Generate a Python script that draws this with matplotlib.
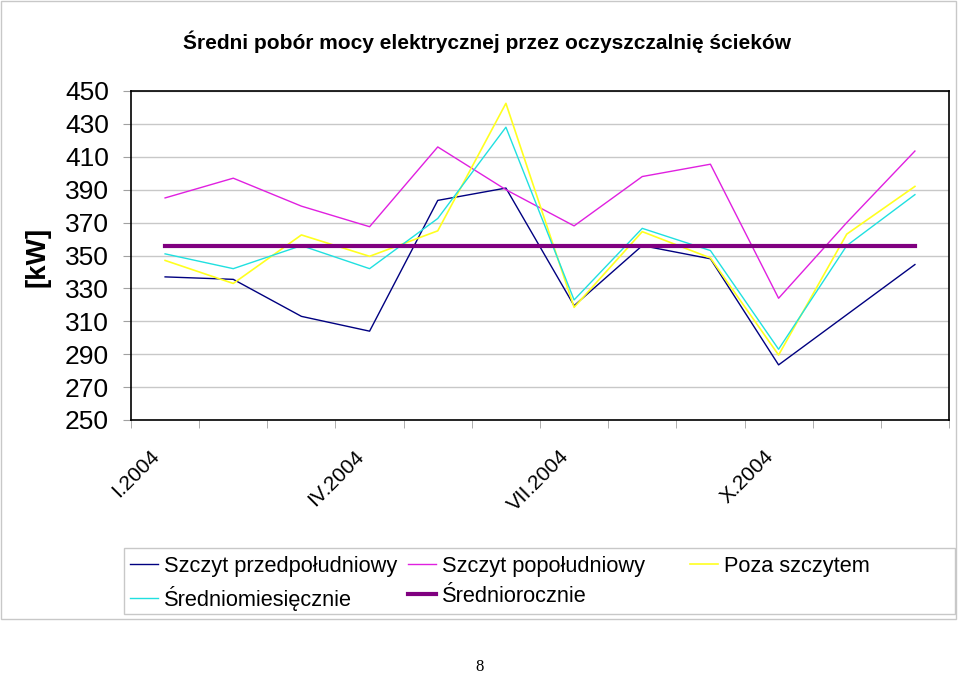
import numpy as np
import matplotlib
matplotlib.use('Agg')
import matplotlib.pyplot as plt
import matplotlib.transforms as mtransforms
from matplotlib.lines import Line2D
from matplotlib.patches import Rectangle

plt.rcParams['font.family'] = ['Liberation Sans', 'DejaVu Sans']

# ---- data ----
months = ['I.2004', 'II.2004', 'III.2004', 'IV.2004', 'V.2004', 'VI.2004',
          'VII.2004', 'VIII.2004', 'IX.2004', 'X.2004', 'XI.2004', 'XII.2004']
szczyt_przed = [337, 335.5, 313, 304, 383.5, 391, 319.5, 356, 348, 283.5, 314, 344.5]
szczyt_popo = [385, 397, 380, 367.5, 416, 390, 368, 398, 405.5, 324, 370, 413.5]
poza_szczytem = [347, 333, 362.5, 349.5, 365, 442.5, 318.5, 364.5, 348.5, 289.5, 363, 392]
sr_miesiecznie = [351, 342, 356, 342, 372.5, 428, 323, 366.5, 353, 293, 356, 387]
sr_rocznie = 356
shown_labels = ['I.2004', 'IV.2004', 'VII.2004', 'X.2004']
yticks = list(range(250, 451, 20))
series_names = ['Szczyt przedpołudniowy', 'Szczyt popołudniowy', 'Poza szczytem',
                'Średniomiesięcznie', 'Średniorocznie']

W, H = 960, 676
fig = plt.figure(figsize=(W / 100, H / 100), dpi=100)

def fx(px):
    return px / W

def fy(py):
    return 1 - py / H

ax = fig.add_axes([fx(131), fy(420), fx(949) - fx(131), fy(91) - fy(420)])

x = np.arange(len(months))
h1, = ax.plot(x, szczyt_przed, color='#000080', lw=1.0)
h2, = ax.plot(x, szczyt_popo, color='#e020e0', lw=1.0)
h3, = ax.plot(x, poza_szczytem, color='#ffff20', lw=1.2)
h4, = ax.plot(x, sr_miesiecznie, color='#20e0e0', lw=1.0)
h5, = ax.plot(x, [sr_rocznie] * len(months), color='#800080', lw=3.0)

ax.set_xlim(-0.5, len(months) - 0.5)
ax.set_ylim(250, 450)
ax.set_yticks(yticks)
ax.yaxis.grid(True, color='#c8c8c8', lw=1.0)
ax.set_axisbelow(True)
for s in ax.spines.values():
    s.set_color('#000000')
    s.set_linewidth(1.2)

ax.tick_params(axis='y', length=6, color='#a0a0a0', labelsize=19, pad=10)

pos = [months.index(l) for l in shown_labels]
ax.set_xticks(pos)
ax.set_xticklabels(shown_labels, fontsize=15, rotation=45, ha='right', va='top',
                   rotation_mode='anchor')
ax.set_xticks(np.arange(-0.5, len(months), 1.0), minor=True)
ax.tick_params(axis='x', which='major', length=0, pad=19)
ax.tick_params(axis='x', which='minor', length=6, color='#a0a0a0')
off = mtransforms.ScaledTranslation(-15 / 100, 0, fig.dpi_scale_trans)
for lbl in ax.get_xticklabels():
    lbl.set_transform(lbl.get_transform() + off)

fig.text(fx(487), fy(42), 'Średni pobór mocy elektrycznej przez oczyszczalnię ścieków',
         fontsize=15, fontweight='bold', ha='center', va='center')
fig.text(fx(37), fy(257), '[kW]', rotation=90, fontsize=20, fontweight='bold',
         ha='center', va='center')
fig.text(fx(480), fy(667), '8', family='Liberation Serif', fontsize=12,
         ha='center', va='center')

# outer chart border and legend box
fig.add_artist(Rectangle((fx(1), fy(619)), fx(956) - fx(1), fy(1) - fy(619),
                         transform=fig.transFigure, fill=False,
                         edgecolor='#c8c8c8', lw=1.0))
fig.add_artist(Rectangle((fx(124), fy(614)), fx(955) - fx(124), fy(548) - fy(614),
                         transform=fig.transFigure, fill=False,
                         edgecolor='#c8c8c8', lw=1.0))

handles = [h1, h2, h3, h4, h5]
cols = [([0, 3], 130), ([1, 4], 408), ([2], 690)]
for idx, xpx in cols:
    fig.legend([handles[i] for i in idx], [series_names[i] for i in idx],
               loc='upper left', bbox_to_anchor=(fx(xpx), fy(556)),
               frameon=False, fontsize=15.7, borderpad=0, borderaxespad=0,
               handlelength=1.3, handletextpad=0.25, labelspacing=0.4)

fig.savefig('out.png', dpi=100)
